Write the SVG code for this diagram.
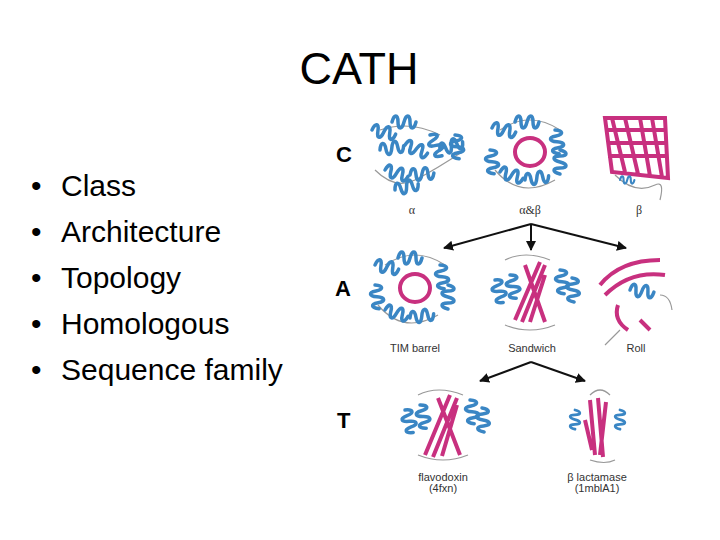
<svg xmlns="http://www.w3.org/2000/svg" width="720" height="540" viewBox="0 0 720 540">
<defs>
<style>
.t{font-family:"Liberation Sans",Arial,sans-serif;fill:#000}
.lab{font-family:"Liberation Sans",Arial,sans-serif;fill:#333;font-size:11px;text-anchor:middle}
.gr{font-family:"Liberation Serif",serif;fill:#333;font-size:12px;text-anchor:middle}
.big{font-family:"Liberation Sans",Arial,sans-serif;font-weight:bold;font-size:22px;fill:#000}
.h{fill:none;stroke:#3a86c4;stroke-width:3.5;stroke-linecap:round}
.s{fill:none;stroke:#c8307f;stroke-width:4}
.l{fill:none;stroke:#999;stroke-width:1.2}
.a{stroke:#111;stroke-width:2;fill:none}
</style>
<path id="hx" d="M0,0 c2,-8 6,-8 6,0 c0,8 4,8 6,0 c2,-8 6,-8 6,0 c0,8 4,8 6,0" class="h"/>
<marker id="ar" viewBox="0 0 10 10" refX="9" refY="5" markerWidth="5" markerHeight="5" orient="auto"><path d="M0,0L10,5L0,10z" fill="#111"/></marker>
</defs>
<rect width="720" height="540" fill="#fff"/>
<text class="t" x="359" y="84" font-size="45" text-anchor="middle">CATH</text>
<g id="bullets" class="t" font-size="30">
<text x="31" y="196">•</text><text x="61" y="196">Class</text>
<text x="31" y="242">•</text><text x="61" y="242">Architecture</text>
<text x="31" y="288">•</text><text x="61" y="288">Topology</text>
<text x="31" y="334">•</text><text x="61" y="334">Homologous</text>
<text x="31" y="380">•</text><text x="61" y="380">Sequence family</text>
</g>
<g id="labels">
<text class="big" x="336" y="162">C</text>
<text class="big" x="335" y="296">A</text>
<text class="big" x="337" y="428">T</text>
<text class="gr" x="412" y="214">α</text>
<text class="gr" x="530" y="214">α&amp;β</text>
<text class="gr" x="639" y="214">β</text>
<text class="lab" x="415" y="352">TIM barrel</text>
<text class="lab" x="532" y="352">Sandwich</text>
<text class="lab" x="636" y="352">Roll</text>
<text class="lab" x="443" y="481">flavodoxin</text>
<text class="lab" x="443" y="492" font-size="8">(4fxn)</text>
<text class="lab" x="597" y="481">β lactamase</text>
<text class="lab" x="597" y="492" font-size="8">(1mblA1)</text>
</g>
<g id="connectors">
<path class="a" d="M531,224 L444,248" marker-end="url(#ar)"/>
<path class="a" d="M531,224 L531,250" marker-end="url(#ar)"/>
<path class="a" d="M531,224 L626,248" marker-end="url(#ar)"/>
<path class="a" d="M531,362 L480,381" marker-end="url(#ar)"/>
<path class="a" d="M531,362 L585,381" marker-end="url(#ar)"/>
</g>
<g id="alpha">
<path class="l" d="M375,170 q20,20 40,10 t50,-30 M380,130 q30,-10 60,5"/>
<use href="#hx" transform="translate(372,130) rotate(10)"/>
<use href="#hx" transform="translate(392,122)"/>
<use href="#hx" transform="translate(380,150) rotate(-10)"/>
<use href="#hx" transform="translate(405,145) rotate(20)"/>
<use href="#hx" transform="translate(430,135) rotate(60)"/>
<use href="#hx" transform="translate(440,150) rotate(-20)"/>
<use href="#hx" transform="translate(385,170) rotate(15)"/>
<use href="#hx" transform="translate(410,175) rotate(-5)"/>
<use href="#hx" transform="translate(455,135) rotate(80)"/>
<use href="#hx" transform="translate(395,190) rotate(-15)"/>
</g>
<g id="alphabeta">
<path class="l" d="M495,170 q25,30 60,10 M500,130 q30,-20 60,0"/>
<ellipse cx="530" cy="152" rx="15" ry="14" class="s" stroke-width="3"/>
<use href="#hx" transform="translate(492,128) rotate(10)"/>
<use href="#hx" transform="translate(515,122)"/>
<use href="#hx" transform="translate(555,130) rotate(80)"/>
<use href="#hx" transform="translate(490,150) rotate(80)"/>
<use href="#hx" transform="translate(500,172) rotate(15)"/>
<use href="#hx" transform="translate(525,180) rotate(-10)"/>
<use href="#hx" transform="translate(560,150) rotate(90)"/>
</g>
<g id="beta">
<path class="s" stroke-width="3" d="M605,118 L665,118 L668,178 L612,172 Z M612,118 L625,172 M625,118 L638,174 M640,118 L650,176 M652,118 L662,177 M606,130 L666,130 M607,143 L667,143 M608,156 L667,156"/>
<path class="l" d="M615,175 q20,20 40,10 q10,-5 5,15"/>
<use href="#hx" transform="translate(620,180) scale(0.6)"/>
</g>
<g id="tim">
<path class="l" d="M378,305 q25,30 60,10 M385,265 q30,-20 60,0"/>
<ellipse cx="415" cy="288" rx="15" ry="14" class="s" stroke-width="3"/>
<use href="#hx" transform="translate(375,265) rotate(10)"/>
<use href="#hx" transform="translate(398,258)"/>
<use href="#hx" transform="translate(440,265) rotate(80)"/>
<use href="#hx" transform="translate(375,285) rotate(80)"/>
<use href="#hx" transform="translate(385,310) rotate(15)"/>
<use href="#hx" transform="translate(410,318) rotate(-10)"/>
<use href="#hx" transform="translate(448,285) rotate(90)"/>
</g>
<g id="sandwich">
<path class="l" d="M505,260 q20,-10 45,0 M505,325 q25,10 50,0"/>
<path class="s" d="M515,320 L540,262 M522,322 L545,265 M530,322 L545,275 M545,322 L525,265"/>
<use href="#hx" transform="translate(495,280) rotate(70)"/>
<use href="#hx" transform="translate(510,275) rotate(75)"/>
<use href="#hx" transform="translate(560,270) rotate(80)"/>
<use href="#hx" transform="translate(572,278) rotate(85)"/>
</g>
<g id="roll">
<path class="s" d="M600,285 q20,-25 60,-25 M605,295 q25,-25 60,-20 M618,305 q-5,15 10,25 M640,320 L650,330"/>
<path class="l" d="M620,330 L605,345 M660,295 q10,0 12,15"/>
<use href="#hx" transform="translate(630,290) rotate(5)"/>
</g>
<g id="flavodoxin">
<path class="l" d="M418,395 q20,-10 45,0 M418,455 q25,10 50,0"/>
<path class="s" d="M425,455 L450,395 M433,457 L457,398 M442,456 L457,405 M460,455 L438,398"/>
<use href="#hx" transform="translate(405,410) rotate(70)"/>
<use href="#hx" transform="translate(420,405) rotate(75)"/>
<use href="#hx" transform="translate(470,400) rotate(80)"/>
<use href="#hx" transform="translate(482,408) rotate(85)"/>
</g>
<g id="lactamase">
<path class="s" d="M590,400 L595,455 M598,398 L603,457 M606,402 L600,455 M585,420 L592,450"/>
<path class="l" d="M590,395 q10,-10 20,0 M590,460 q15,5 25,0"/>
<use href="#hx" transform="translate(575,410) rotate(90) scale(0.8)"/>
<use href="#hx" transform="translate(620,410) rotate(90) scale(0.8)"/>
</g>
</svg>
